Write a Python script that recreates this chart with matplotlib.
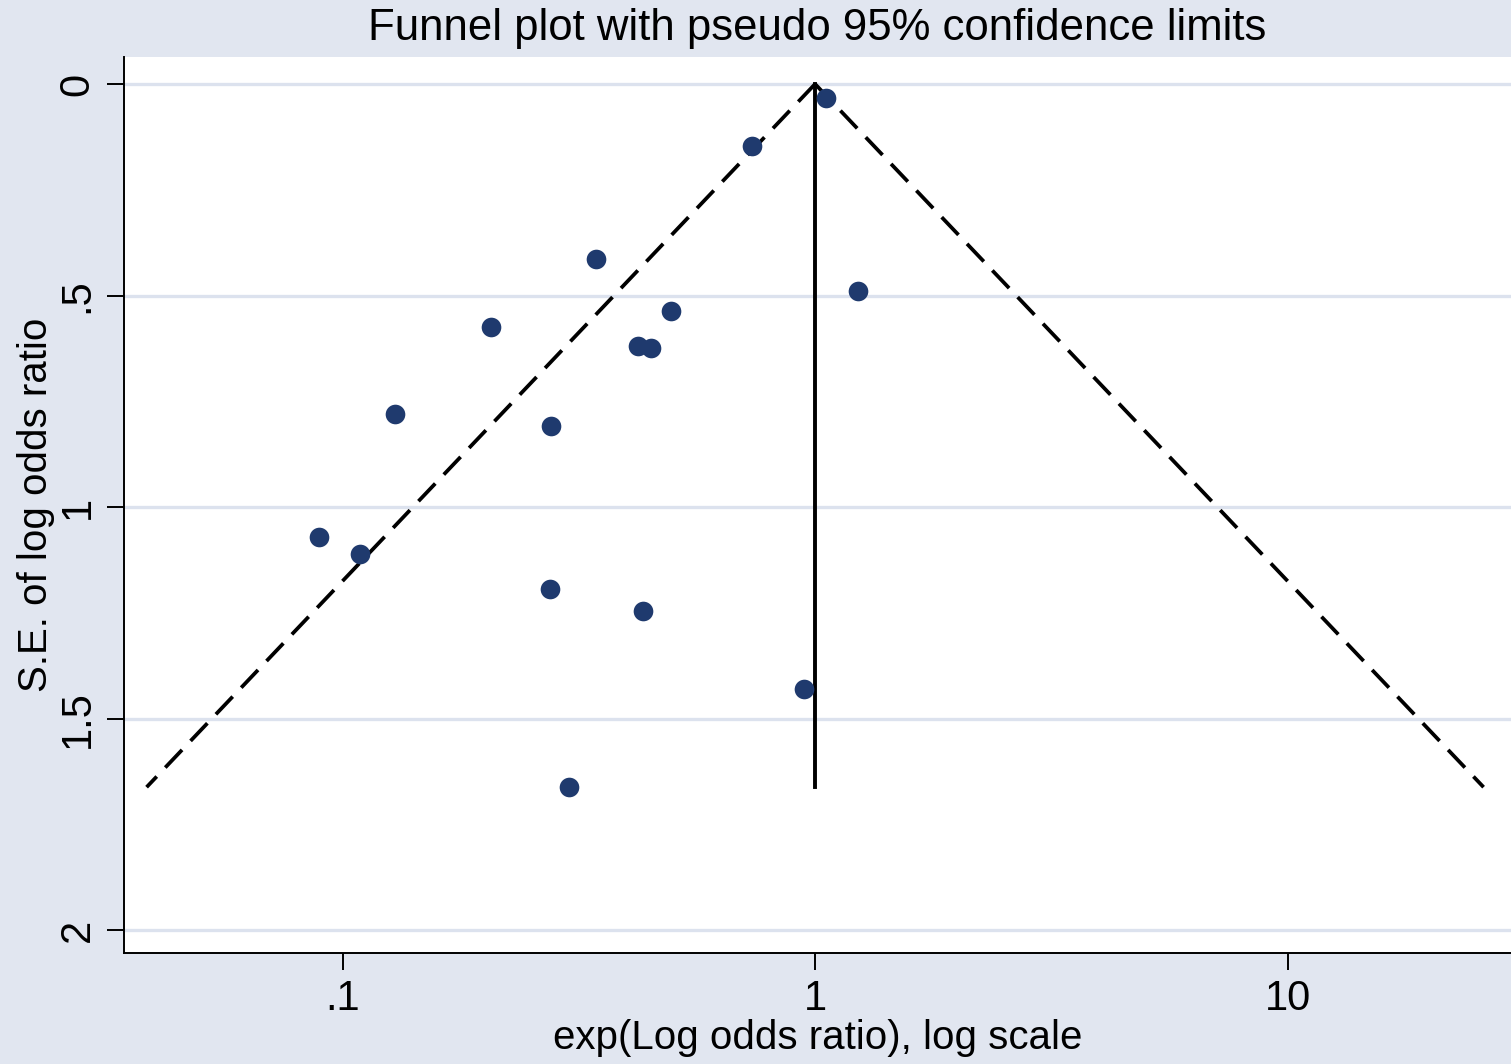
import matplotlib.pyplot as plt
import numpy as np

plt.rcParams['font.family'] = ['Liberation Sans', 'DejaVu Sans']

# study odds ratios and their standard errors (log scale)
odds_ratio = [1.055, 0.736, 0.344, 1.233, 0.496, 0.206, 0.422, 0.450,
              0.129, 0.276, 0.0892, 0.109, 0.275, 0.432, 0.948, 0.302]
se_log_or = [0.033, 0.147, 0.414, 0.489, 0.537, 0.574, 0.619, 0.624,
             0.780, 0.809, 1.071, 1.111, 1.194, 1.246, 1.430, 1.662]
pooled = 1.0
yticks = [0, 0.5, 1, 1.5, 2]
ytick_labels = ['0', '.5', '1', '1.5', '2']
xticks = [0.1, 1, 10]
xtick_labels = ['.1', '1', '10']

bg = '#E1E6F0'
fig = plt.figure(figsize=(15.11, 10.64), dpi=100, facecolor=bg)
ax = fig.add_axes([0.0821, 0.1043, 0.9179, 0.8421])
ax.set_facecolor('white')

ax.set_xscale('log')
ax.set_xlim(0.03448, 29.7)
ax.set_ylim(2.054, -0.0638)

for y in yticks:
    ax.axhline(y, color='#DCE2EE', lw=2.4, zorder=0)

# pseudo 95% limits
max_se = max(se_log_or)
se_line = np.array([0, max_se])
lo = pooled * np.exp(-1.96 * se_line)
hi = pooled * np.exp(1.96 * se_line)
ax.plot(lo, se_line, color='black', lw=2.7, dashes=(6.5, 3.3), zorder=2)
ax.plot(hi, se_line, color='black', lw=2.7, dashes=(6.5, 3.3), zorder=2)
ax.plot([pooled, pooled], [0, max_se], color='black', lw=2.8, zorder=2)

ax.scatter(odds_ratio, se_log_or, s=200, color='#1F3A6E', zorder=3, linewidths=0)

ax.set_yticks(yticks)
ax.set_yticklabels(ytick_labels, rotation=90, va='center')
ax.set_xticks(xticks)
ax.set_xticklabels(xtick_labels)
ax.xaxis.set_minor_locator(plt.NullLocator())
ax.tick_params(axis='both', length=12, width=1.4, labelsize=30, pad=7)

for s in ['top', 'right']:
    ax.spines[s].set_visible(False)
for s in ['left', 'bottom']:
    ax.spines[s].set_linewidth(1.4)

ax.set_xlabel('exp(Log odds ratio), log scale', fontsize=29, labelpad=0)
ax.set_ylabel('S.E. of log odds ratio', fontsize=29, labelpad=2)
ax.set_title('Funnel plot with pseudo 95% confidence limits', fontsize=31.5, pad=12)

fig.savefig('out.png', dpi=100, facecolor=bg)
